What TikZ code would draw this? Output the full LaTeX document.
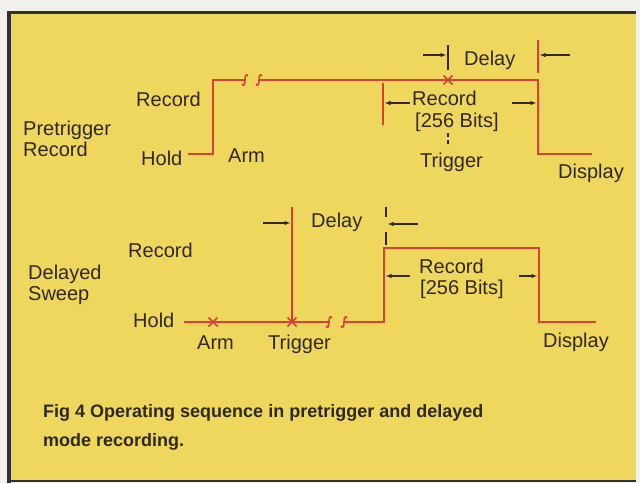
\documentclass[tikz,border=0pt]{standalone}
\usepackage{fontspec}
\setmainfont{Liberation Sans}
\usetikzlibrary{arrows.meta,calc}
\definecolor{paper}{HTML}{F3F1EC}
\definecolor{bgyel}{HTML}{EFD65C}
\definecolor{wave}{HTML}{D9403A}
\definecolor{ink}{HTML}{2D2A26}
\definecolor{frame}{HTML}{2F3136}
\begin{document}
\begin{tikzpicture}[x=1pt,y=-1pt,
  lbl/.style={font=\fontsize{20}{22}\selectfont, text=ink, inner sep=0pt, anchor=base west},
  captxt/.style={font=\bfseries\fontsize{18}{22}\selectfont, text=ink, inner sep=0pt, anchor=base west},
  wv/.style={draw=wave, line width=2pt},
  rtick/.style={draw=wave, line width=1.8pt},
  btick/.style={draw=ink, line width=1.8pt},
  arr/.style={draw=ink, line width=1.2pt, -{Latex[length=6pt,width=4.5pt]}},
  xmark/.style={draw=wave, line width=1.6pt},
  brk/.style={draw=wave, line width=1.6pt},
  squig/.pic={\draw[brk] (-3,4) .. controls (-1,7) and (0,4) .. (0,0) .. controls (0,-4) and (1,-7) .. (3,-4);},
  xpic/.pic={\draw[xmark] (-4.5,-4.5) -- (4.5,4.5) (-4.5,4.5) -- (4.5,-4.5);}]
\useasboundingbox (0,0) rectangle (640,483);
\fill[paper] (0,0) rectangle (640,483);
\fill[bgyel] (7,11) rectangle (636,481);
\draw[frame, line width=3pt] (7,12.5) -- (636,12.5);
\draw[frame, line width=4pt] (9,11) -- (9,483);
\draw[frame, line width=2pt] (7,481) -- (636,481);

% ---------- Pretrigger record ----------
\node[lbl] (ptA) at (23,135) {Pretrigger};
\node[lbl] (ptB) at (23,156) {Record};
\node[lbl] (trec) at (136,106) {Record};
\node[lbl] (thold) at (141,165) {Hold};
\node[lbl] (tarm) at (228,162) {Arm};
\node[lbl] (tdelay) at (464,65) {Delay};
\node[lbl] (trec2) at (412,105) {Record};
\node[lbl] (tbits) at (415,127) {[256 Bits]};
\node[lbl] (ttrig) at (420,167) {Trigger};
\node[lbl] (tdisp) at (558,178) {Display};

\coordinate (t0) at (188,154);
\coordinate (t1) at (213,154);
\coordinate (t2) at (213,80);
\coordinate (t3) at (245,80);
\coordinate (t4) at (259,80);
\coordinate (t5) at (538,80);
\coordinate (t6) at (538,154);
\coordinate (t7) at (592,154);
\draw[wv, line join=miter] (t0) -- (t1) -- (t2) -- (t3);
\draw[wv, line join=miter] (t4) -- (t5) -- (t6) -- (t7);
\pic at (t3) {squig};
\pic at (t4) {squig};
\coordinate (tx) at (448,80);
\pic at (tx) {xpic};

\coordinate (tdA) at (448,45); \coordinate (tdB) at (448,70);
\draw[btick] (tdA) -- (tdB);
\coordinate (tdC) at (423,55); \coordinate (tdD) at (446.5,55);
\draw[arr] (tdC) -- (tdD);
\coordinate (tdE) at (538,40); \coordinate (tdF) at (538,73);
\draw[rtick] (tdE) -- (tdF);
\coordinate (tdG) at (570,55); \coordinate (tdH) at (539.5,55);
\draw[arr] (tdG) -- (tdH);

\coordinate (trA) at (383,83); \coordinate (trB) at (383,125);
\draw[rtick] (trA) -- (trB);
\coordinate (trC) at (410,103); \coordinate (trD) at (384.5,103);
\draw[arr] (trC) -- (trD);
\coordinate (trE) at (512,103); \coordinate (trF) at (536.5,103);
\draw[arr] (trE) -- (trF);
\coordinate (tgA) at (448,133); \coordinate (tgB) at (448,147);
\draw[draw=ink, line width=1.1pt, dash pattern=on 4pt off 3pt] (tgA) -- (tgB);

% ---------- Delayed sweep ----------
\node[lbl] (dsA) at (28,279) {Delayed};
\node[lbl] (dsB) at (28,300) {Sweep};
\node[lbl] (brec) at (128,257) {Record};
\node[lbl] (bhold) at (133,327) {Hold};
\node[lbl] (barm) at (197,349) {Arm};
\node[lbl] (btrig) at (268,349) {Trigger};
\node[lbl] (bdelay) at (311,227) {Delay};
\node[lbl] (brec2) at (419,273) {Record};
\node[lbl] (bbits) at (420,294) {[256 Bits]};
\node[lbl] (bdisp) at (543,347) {Display};

\coordinate (b0) at (184,322);
\coordinate (b1) at (329,322);
\coordinate (b2) at (344,322);
\coordinate (b3) at (384,322);
\coordinate (b4) at (384,248);
\coordinate (b5) at (539,248);
\coordinate (b6) at (539,322);
\coordinate (b7) at (596,322);
\draw[wv] (b0) -- (b1);
\draw[wv, line join=miter] (b2) -- (b3) -- (b4) -- (b5) -- (b6) -- (b7);
\pic at (b1) {squig};
\pic at (b2) {squig};
\coordinate (bxa) at (213,322);
\coordinate (bxt) at (292,322);
\pic at (bxa) {xpic};
\pic at (bxt) {xpic};
\coordinate (bv) at (292,207);
\draw[wave, line width=1.8pt] (bv) -- (bxt);
\coordinate (bdA) at (263,223); \coordinate (bdB) at (290.5,223);
\draw[arr] (bdA) -- (bdB);
\coordinate (bdC) at (386,207); \coordinate (bdD) at (386,217);
\coordinate (bdE) at (386,232); \coordinate (bdF) at (386,245);
\draw[btick] (bdC) -- (bdD);
\draw[btick] (bdE) -- (bdF);
\coordinate (bdG) at (418,224); \coordinate (bdH) at (387.5,224);
\draw[arr] (bdG) -- (bdH);
\coordinate (brA) at (410,276); \coordinate (brB) at (385.5,276);
\draw[arr] (brA) -- (brB);
\coordinate (brC) at (519,276); \coordinate (brD) at (537.5,276);
\draw[arr] (brC) -- (brD);

% ---------- caption ----------
\node[captxt] (capA) at (43,417) {Fig 4 Operating sequence in pretrigger and delayed};
\node[captxt] (capB) at (43,446) {mode recording.};
\end{tikzpicture}
\end{document}
